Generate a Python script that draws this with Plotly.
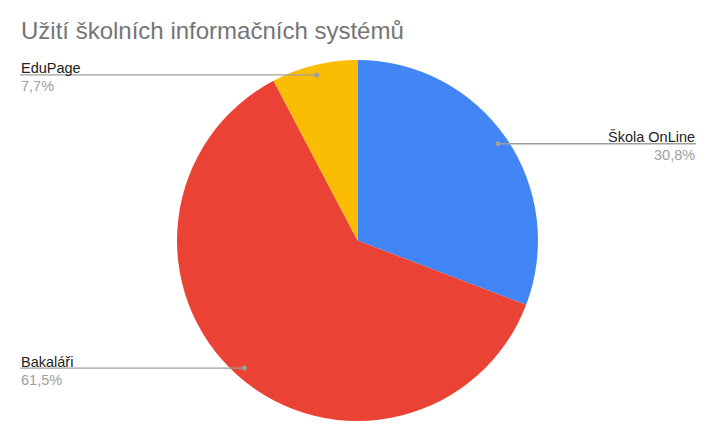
import math
import plotly.graph_objects as go

# page is drawn with an 8px body margin, so the figure is offset by 8px
OFF = 8
W, H = 718 - OFF, 443 - OFF

title = "Užití školních informačních systémů"
labels = ["Škola OnLine", "Bakaláři", "EduPage"]
values = [30.8, 61.5, 7.7]
pct_text = ["30,8%", "61,5%", "7,7%"]
colors = ["#4285F4", "#EA4335", "#FBBC04"]

# pie geometry (page pixels)
cx, cy, R = 357.5, 240.5, 180.5
dot_frac = 0.945
left_edge, right_edge = 20, 696
FONT = "Liberation Sans, Arial, sans-serif"

def px(x):
    return (x - OFF) / W

def py(y):
    return 1 - (y - OFF) / H

fig = go.Figure()
fig.add_trace(go.Pie(
    labels=labels, values=values, sort=False, direction="clockwise", rotation=0,
    marker=dict(colors=colors, line=dict(width=0)),
    textinfo="none", showlegend=False, hole=0,
    domain=dict(x=[px(cx - R), px(cx + R)], y=[py(cy + R), py(cy - R)]),
))

shapes = []
annotations = []
total = sum(values)
cum = 0.0
for lab, v, pt in zip(labels, values, pct_text):
    mid = (cum + v / 2) / total * 2 * math.pi
    cum += v
    dx = cx + dot_frac * R * math.sin(mid)
    dy = cy - dot_frac * R * math.cos(mid)
    right = math.sin(mid) > 0
    edge = right_edge if right else left_edge
    shapes.append(dict(type="line", xref="paper", yref="paper",
                       x0=px(dx), x1=px(edge), y0=py(dy), y1=py(dy),
                       line=dict(color="#9E9E9E", width=1.3)))
    shapes.append(dict(type="circle", xref="paper", yref="paper",
                       x0=px(dx - 2.5), x1=px(dx + 2.5), y0=py(dy + 2.5), y1=py(dy - 2.5),
                       fillcolor="#9E9E9E", line=dict(width=0)))
    anchor = "right" if right else "left"
    annotations.append(dict(text=lab, x=px(edge), y=py(dy + 2.5), xref="paper", yref="paper",
                            xanchor=anchor, yanchor="bottom", showarrow=False,
                            borderpad=0, font=dict(family=FONT, size=14.5, color="#222222")))
    annotations.append(dict(text=pt, x=px(edge), y=py(dy + 2.5), xref="paper", yref="paper",
                            xanchor=anchor, yanchor="top", showarrow=False,
                            borderpad=0, font=dict(family=FONT, size=14.5, color="#A0A0A0")))

annotations.append(dict(text=title, x=px(20), y=py(16), xref="paper", yref="paper",
                        xanchor="left", yanchor="top", showarrow=False, borderpad=0,
                        font=dict(family=FONT, size=24, color="#757575")))

fig.update_layout(width=W, height=H, margin=dict(l=0, r=0, t=0, b=0),
                  paper_bgcolor="white", plot_bgcolor="white",
                  shapes=shapes, annotations=annotations)

fig.write_html("out.html")
